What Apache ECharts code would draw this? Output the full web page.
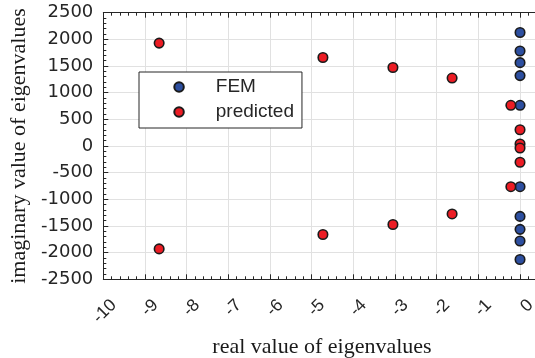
<!DOCTYPE html>
<html>
<head>
<meta charset="utf-8">
<script src="https://cdn.jsdelivr.net/npm/echarts@6/dist/echarts.min.js"></script>
<style>
  html, body { margin: 0; padding: 0; background: #ffffff; }
  #chart { width: 535px; height: 358px; }
</style>
</head>
<body>
<div id="chart"></div>
<script>
// Eigenvalues: [real part, imaginary part]
const femReal = [0, 0, 0, 0, 0, 0, 0, 0, 0, 0];
const femImag = [2128, 1782, 1563, 1320, 763, -763, -1320, -1563, -1782, -2128];

const predReal = [-8.66, -8.66, -4.73, -4.73, -3.05, -3.05, -1.63, -1.63, -0.22, -0.22, 0, 0, 0, 0];
const predImag = [1930, -1930, 1659, -1659, 1472, -1472, 1274, -1274, 763, -763, 305, -305, 37, -37];

const xTicks = [-10, -9, -8, -7, -6, -5, -4, -3, -2, -1, 0];
const yTicks = [-2500, -2000, -1500, -1000, -500, 0, 500, 1000, 1500, 2000, 2500];

const seriesNames = ['FEM', 'predicted'];

const pairs = (xs, ys) => xs.map((x, i) => [x, ys[i]]);

const axisColor = '#262626';
const gridColor = '#e1e1e1';

const chart = echarts.init(document.getElementById('chart'), null, { renderer: 'canvas' });

const xCommon = {
  type: 'value',
  min: xTicks[0],
  max: 1,
  interval: 1,
  axisLine: { onZero: false, lineStyle: { color: axisColor, width: 1 } },
  axisTick: { inside: true, length: 5, lineStyle: { color: axisColor } },
  minorTick: { show: true, splitNumber: 5, length: 3, lineStyle: { color: axisColor } }
};

chart.setOption({
  animation: false,
  backgroundColor: '#ffffff',
  grid: {
    left: 103.3, top: 12.7, width: 458.4, height: 266.6,
    containLabel: false, outerBoundsMode: 'none'
  },
  legend: {
    data: seriesNames,
    orient: 'vertical',
    left: 139,
    top: 72,
    padding: [5, 8, 6, 34.3],
    itemWidth: 9.5,
    itemHeight: 9.5,
    itemGap: 5,
    backgroundColor: '#ffffff',
    borderColor: axisColor,
    borderWidth: 1,
    textStyle: {
      fontFamily: 'Liberation Sans', fontSize: 19, color: axisColor, lineHeight: 20,
      padding: [0, 0, 0, 27]
    }
  },
  xAxis: [
    Object.assign({}, xCommon, {
      position: 'bottom',
      name: 'real value of eigenvalues',
      nameLocation: 'middle',
      nameGap: 57,
      nameTextStyle: {
        fontFamily: 'Liberation Serif', fontSize: 22, color: '#1a1a1a',
        padding: [0, 21, 0, 0]
      },
      splitLine: { show: true, lineStyle: { color: gridColor, width: 1 } },
      axisLabel: {
        rotate: 45,
        align: 'center',
        verticalAlign: 'middle',
        margin: 33.5,
        color: axisColor,
        fontFamily: 'Liberation Sans',
        fontSize: 17.5,
        formatter: v => (xTicks.indexOf(v) >= 0 ? '{t|' + v + '}' : ''),
        rich: { t: { width: 29.4, align: 'right', fontFamily: 'Liberation Sans', fontSize: 17.5, color: axisColor } }
      }
    }),
    Object.assign({}, xCommon, {
      position: 'top',
      axisLabel: { show: false },
      splitLine: { show: false }
    })
  ],
  yAxis: [{
    type: 'value',
    min: yTicks[0],
    max: yTicks[yTicks.length - 1],
    interval: 500,
    name: 'imaginary value of eigenvalues',
    nameLocation: 'middle',
    nameGap: 73,
    nameRotate: 90,
    nameTextStyle: { fontFamily: 'Liberation Serif', fontSize: 22, color: '#1a1a1a' },
    axisLine: { onZero: false, lineStyle: { color: axisColor, width: 1 } },
    axisTick: { inside: true, length: 5, lineStyle: { color: axisColor } },
    minorTick: { show: true, splitNumber: 5, length: 3, lineStyle: { color: axisColor } },
    splitLine: { show: true, lineStyle: { color: gridColor, width: 1 } },
    axisLabel: {
      margin: 10, color: axisColor, fontFamily: 'DejaVu Sans', fontSize: 18,
      formatter: v => String(v)
    }
  }],
  series: [
    {
      name: seriesNames[0],
      type: 'scatter',
      symbol: 'circle',
      symbolSize: 9.5,
      data: pairs(femReal, femImag),
      itemStyle: { color: '#2d4fa0', borderColor: '#1a1a1a', borderWidth: 1.6, opacity: 1 },
      z: 3
    },
    {
      name: seriesNames[1],
      type: 'scatter',
      symbol: 'circle',
      symbolSize: 9.5,
      data: pairs(predReal, predImag),
      itemStyle: { color: '#ec1c24', borderColor: '#1a1a1a', borderWidth: 1.6, opacity: 1 },
      z: 4
    }
  ]
});
</script>
</body>
</html>
